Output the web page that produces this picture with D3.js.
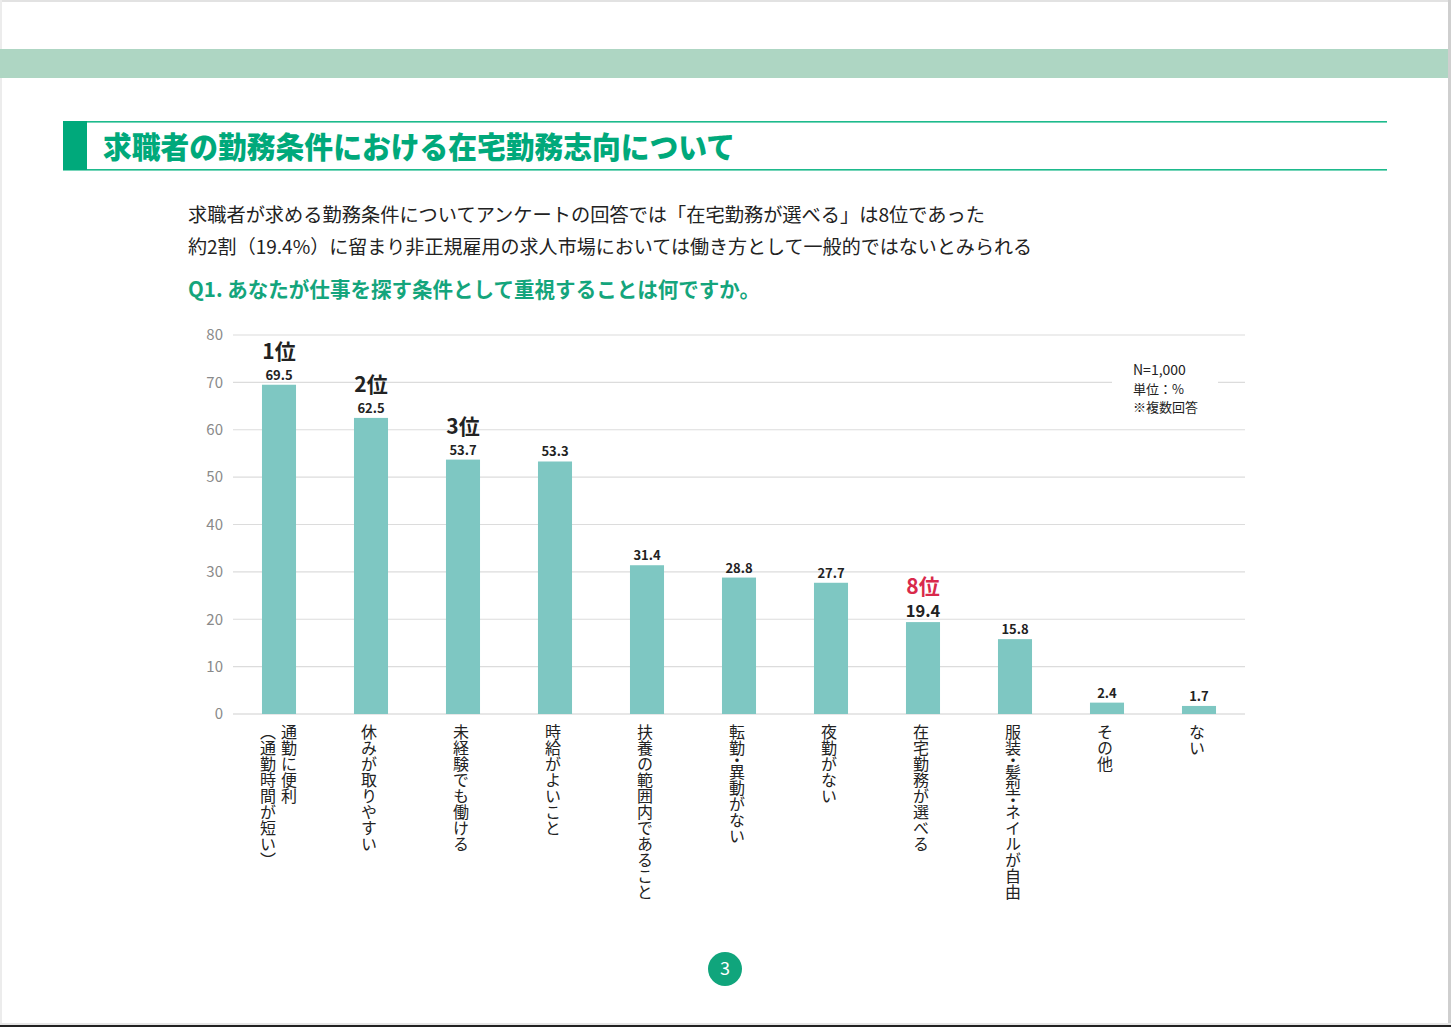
<!DOCTYPE html>
<html><head><meta charset="utf-8">
<script src="https://cdn.jsdelivr.net/npm/d3@7"></script>
<style>
html,body{margin:0;padding:0;background:#fff;}
svg{display:block;font-family:"Noto Sans CJK JP","Noto Sans",sans-serif;}
</style></head>
<body>
<script>
const categories = [
  ["通勤に便利","（通勤時間が短い）"],
  ["休みが取りやすい"],
  ["未経験でも働ける"],
  ["時給がよいこと"],
  ["扶養の範囲内であること"],
  ["転勤・異動がない"],
  ["夜勤がない"],
  ["在宅勤務が選べる"],
  ["服装・髪型・ネイルが自由"],
  ["その他"],
  ["ない"]
];
const values = [69.5, 62.5, 53.7, 53.3, 31.4, 28.8, 27.7, 19.4, 15.8, 2.4, 1.7];
const ranks = ["1位","2位","3位","","","","","8位","","",""];
const yTicks = [0,10,20,30,40,50,60,70,80];
const titleText = "求職者の勤務条件における在宅勤務志向について";
const bodyLines = [
  "求職者が求める勤務条件についてアンケートの回答では「在宅勤務が選べる」は8位であった",
  "約2割（19.4%）に留まり非正規雇用の求人市場においては働き方として一般的ではないとみられる"
];
const questionText = "Q1. あなたが仕事を探す条件として重視することは何ですか。";
const noteLines = ["N=1,000","単位：%","※複数回答"];
const pageNumber = "3";

const W = 1451, H = 1027;
const svg = d3.select("body").append("svg").attr("width", W).attr("height", H);

// page frame
svg.append("rect").attr("x",0).attr("y",0).attr("width",W).attr("height",H).attr("fill","#fff");
svg.append("rect").attr("x",0).attr("y",0).attr("width",W).attr("height",2).attr("fill","#e2e2e2");
svg.append("rect").attr("x",0).attr("y",0).attr("width",2).attr("height",H).attr("fill","#ececec");
svg.append("rect").attr("x",W-3).attr("y",0).attr("width",3).attr("height",H).attr("fill","#cfcfcf");
svg.append("rect").attr("x",0).attr("y",H-4).attr("width",W).attr("height",2).attr("fill","#e6e6e6");
svg.append("rect").attr("x",0).attr("y",H-2).attr("width",W).attr("height",2).attr("fill","#222");

// green band
svg.append("rect").attr("x",0).attr("y",49).attr("width",W-3).attr("height",29).attr("fill","#aed6c3");

// title box
const green = "#00a97b";
svg.append("rect").attr("x",63).attr("y",121).attr("width",1324).attr("height",1.6).attr("fill","#1dba8c");
svg.append("rect").attr("x",63).attr("y",169).attr("width",1324).attr("height",1.6).attr("fill","#1dba8c");
svg.append("rect").attr("x",63).attr("y",121).attr("width",24).attr("height",49).attr("fill",green);
svg.append("text").attr("x",103).attr("y",158).attr("font-size",30).attr("font-weight",900)
  .attr("fill",green).attr("textLength",632).attr("lengthAdjust","spacingAndGlyphs").text(titleText);

// body
svg.append("text").attr("x",188).attr("y",222).attr("font-size",19).attr("fill","#222")
  .attr("textLength",797).attr("lengthAdjust","spacingAndGlyphs").text(bodyLines[0]);
svg.append("text").attr("x",188).attr("y",254).attr("font-size",19).attr("fill","#222")
  .attr("textLength",844).attr("lengthAdjust","spacingAndGlyphs").text(bodyLines[1]);
svg.append("text").attr("x",188).attr("y",297).attr("font-size",21).attr("font-weight",700).attr("fill","#14a57c")
  .attr("textLength",572).attr("lengthAdjust","spacingAndGlyphs").text(questionText);

// chart
const x = d3.scaleBand().domain(d3.range(categories.length)).range([233,1245]).paddingInner(0.63).paddingOuter(0.315);
const y = d3.scaleLinear().domain([0,80]).range([714,335]);

const grid = svg.append("g");
grid.selectAll("line").data(yTicks).join("line")
  .attr("x1",233).attr("x2",1245).attr("y1",d=>y(d)).attr("y2",d=>y(d))
  .attr("stroke",d=>d===0?"#cfcfcf":"#dcdcdc").attr("stroke-width",1.2);

const yAxis = d3.axisLeft(y).tickValues(yTicks).tickSize(0).tickPadding(0);
const ya = svg.append("g").attr("transform","translate(223,0)").call(yAxis);
ya.select(".domain").remove();
ya.selectAll("text").attr("font-size",15).attr("fill","#8a8a8a").attr("font-family","\"Noto Sans CJK JP\",sans-serif").attr("dy","0.32em");

// note box
const nb = svg.append("g");
nb.append("rect").attr("x",1112).attr("y",358).attr("width",106).attr("height",60).attr("fill","#fff");
noteLines.forEach((t,i)=>{
  nb.append("text").attr("x",1133).attr("y",375+i*18.5).attr("font-size",i===0?14:13).attr("fill","#222").text(t);
});

// bars
svg.append("g").selectAll("rect").data(values).join("rect")
  .attr("x",(d,i)=>x(i)).attr("width",x.bandwidth())
  .attr("y",d=>y(d)).attr("height",d=>y(0)-y(d)).attr("fill","#7ec7c2");

// value labels
svg.append("g").selectAll("text").data(values).join("text")
  .attr("x",(d,i)=>x(i)+x.bandwidth()/2).attr("y",d=>y(d)-5)
  .attr("text-anchor","middle").attr("font-weight",700)
  .attr("font-size",(d,i)=>ranks[i]==="8位"?16.5:13).attr("fill","#222")
  .text(d=>d.toFixed(1));

// rank labels
svg.append("g").selectAll("text").data(ranks).join("text")
  .attr("x",(d,i)=>x(i)+x.bandwidth()/2).attr("y",(d,i)=>y(values[i])-(d==="8位"?28:26))
  .attr("text-anchor","middle").attr("font-weight",700)
  .attr("font-size",21).attr("fill",d=>d==="8位"?"#d9294b":"#222")
  .text(d=>d);

// category labels vertical
const cg = svg.append("g");
categories.forEach((lines,i)=>{
  const cx = x(i)+x.bandwidth()/2;
  const n = lines.length;
  lines.forEach((t,j)=>{
    const off = n===1 ? -2 : (j===0 ? 10 : -11);
    const el = cg.append("text").attr("x",cx+off).attr("y",724)
      .style("writing-mode","vertical-rl")
      .attr("font-size",16).attr("fill","#222").attr("text-anchor","start");
    // middle dot takes half the advance, as in the reference
    const chars = Array.from(t);
    chars.forEach((c,k)=>{
      const ts = el.append("tspan").text(c);
      if (c==="・" || chars[k+1]==="・") ts.style("letter-spacing","-4px");
    });
  });
});

// page number
svg.append("circle").attr("cx",725).attr("cy",969).attr("r",17).attr("fill","#10a57c");
svg.append("text").attr("x",725).attr("y",975).attr("text-anchor","middle").attr("font-size",18).attr("fill","#fff").text(pageNumber);
</script>
</body></html>
